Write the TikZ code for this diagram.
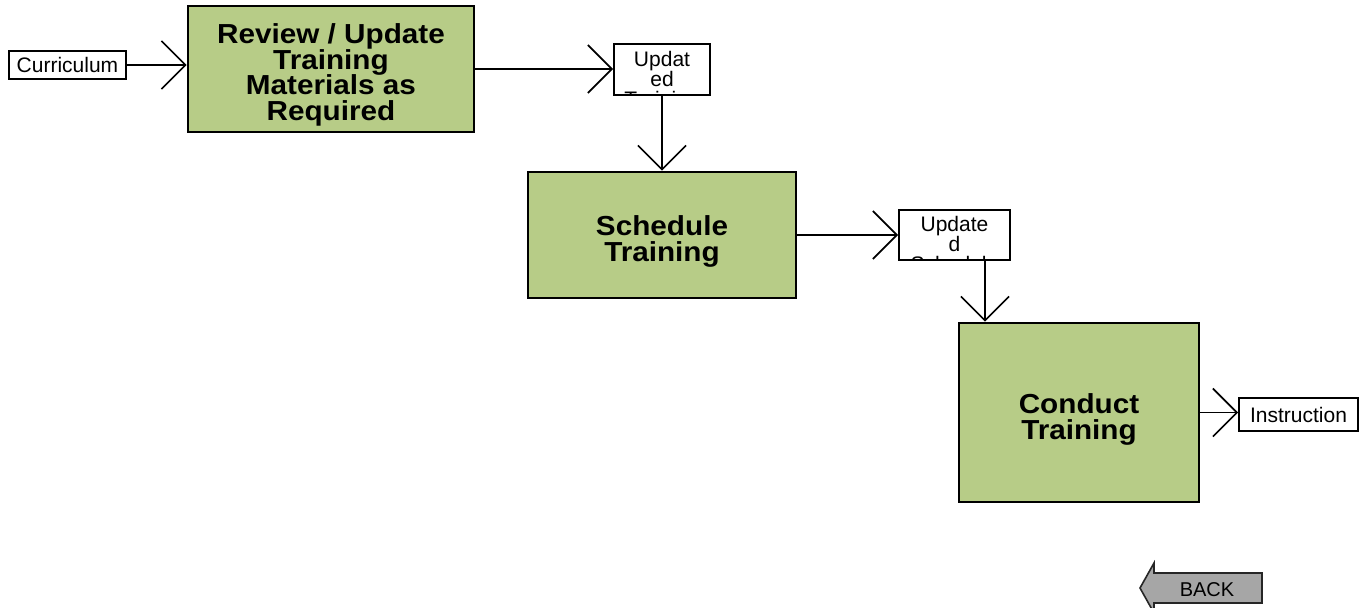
\documentclass[tikz,border=0pt]{standalone}
\usepackage{fontspec}
\setmainfont{Liberation Sans}
\newfontfamily\actfamily[FakeStretch=1.08]{Liberation Sans}
\usetikzlibrary{arrows.meta}
\definecolor{boxgreen}{RGB}{183,204,135}
\definecolor{backgray}{RGB}{166,166,166}
\newcommand{\actA}{\actfamily\bfseries\fontsize{27.5pt}{25.6pt}\selectfont}
\newcommand{\actB}{\actfamily\bfseries\fontsize{27.5pt}{25.7pt}\selectfont}
\newcommand{\actC}{\actfamily\bfseries\fontsize{27.5pt}{26.6pt}\selectfont}
\tikzset{
  activity/.style={draw=black, line width=2.8pt, fill=boxgreen, inner sep=0pt},
  acttext/.style={inner sep=0pt, align=center, text=black},
  databox/.style={draw=black, line width=2pt, fill=white, inner sep=0pt, align=center,
    font=\fontsize{21pt}{22pt}\selectfont},
  flow/.style={line width=1.6pt, -{Straight Barb[length=24pt, width=48pt, line width=1.6pt]}},
}
\begin{document}
\lineskiplimit=-30pt
\begin{tikzpicture}[x=1pt, y=-1pt]
\useasboundingbox (0,0) rectangle (1361,608);

\node[activity, minimum width=286pt, minimum height=126pt,
  label={[acttext, font=\actA, yshift=-5.9pt]center:{Review / Update\\Training\\Materials as\\Required}}]
  (rev) at (331,69) {};
\node[activity, minimum width=268pt, minimum height=126pt,
  label={[acttext, font=\actB, yshift=-6.7pt]center:{Schedule\\Training}}]
  (sch) at (662,235) {};
\node[activity, minimum width=240pt, minimum height=179pt,
  label={[acttext, font=\actC, yshift=-7pt]center:{Conduct\\Training}}]
  (con) at (1079,412.5) {};

\node[databox, minimum width=117pt, minimum height=28pt] (cur) at (67.5,65) {Curriculum};
\node[databox, minimum width=119pt, minimum height=33pt] (ins) at (1298.5,414.5) {Instruction};

\node[databox, minimum width=96pt, minimum height=51pt,
  path picture={\node[anchor=north, inner sep=0pt, align=center,
      font=\fontsize{21pt}{20pt}\selectfont]
      at ([yshift=-6pt]path picture bounding box.north) {Updat\\ed\\Training};}]
  (ut) at (662,69.5) {};
\node[databox, minimum width=111pt, minimum height=50pt,
  path picture={\node[anchor=north, inner sep=0pt, align=center,
      font=\fontsize{21pt}{20pt}\selectfont]
      at ([yshift=-5pt]path picture bounding box.north) {Update\\d\\Schedule};}]
  (us) at (954.5,235) {};

\coordinate (dropx) at (985,0);

\draw[flow] (cur.east) -- (cur.east -| rev.west);
\draw[flow] (rev.east) -- (rev.east -| ut.west);
\draw[flow] (ut.south) -- (sch.north);
\draw[flow] (sch.east) -- (sch.east -| us.west);
\draw[flow] (dropx |- us.south) -- (dropx |- con.north);
\draw[flow] (con.east) -- (con.east -| ins.west);

\draw[line width=1.6pt, draw=black!85, fill=backgray]
  (1262,573) -- (1154,573) -- (1154,563) -- (1140,588) -- (1154,613) -- (1154,603) -- (1262,603) -- cycle;
\node[inner sep=0pt, font=\fontsize{20pt}{22pt}\selectfont] (back) at (1207,590) {BACK};
\end{tikzpicture}
\end{document}
